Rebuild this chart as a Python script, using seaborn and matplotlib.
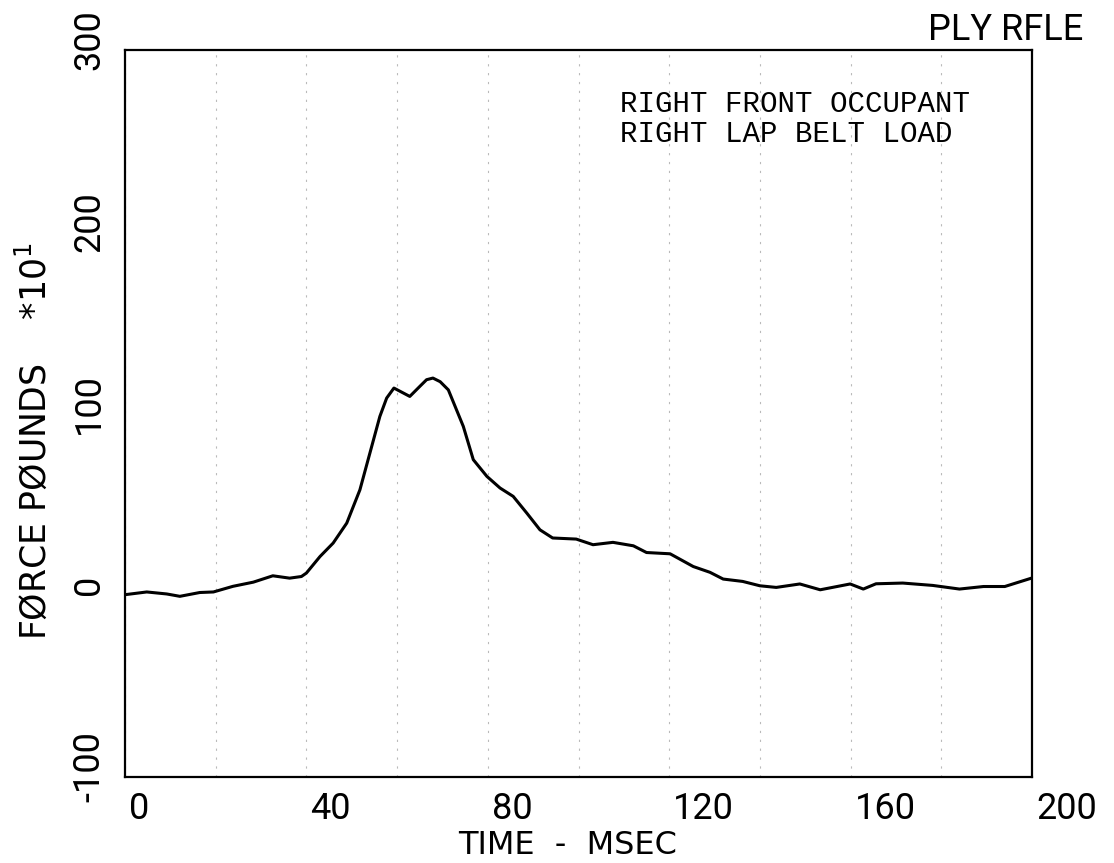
# -*- coding: utf-8 -*-
"""
Lap belt load trace (right front occupant) - plotter style
"""
import numpy as np
import pandas as pd
import matplotlib
matplotlib.use('Agg')
import matplotlib.pyplot as plt
import matplotlib.transforms as mtransforms
import seaborn as sns

# ------------------------------------------------------------------
# data (force in pounds * 10)
# ------------------------------------------------------------------
time_ms = [0, 4.8, 9.2, 12.1, 16.5, 19.5, 23.8, 28.3, 32.6, 36.3, 38.9, 40.0,
           43.0, 45.9, 48.9, 51.8, 54.0, 56.2, 57.7, 59.3, 62.8, 65.0, 66.5,
           67.9, 69.5, 71.3, 74.6, 76.8, 79.8, 82.7, 85.6, 88.6, 91.5, 94.3,
           99.5, 103.2, 107.6, 112.1, 115.0, 120.2, 125.3, 129.0, 131.9, 136.2,
           140.0, 143.6, 148.8, 153.3, 159.9, 162.8, 165.6, 171.5, 178.1, 184.0,
           189.3, 194.0, 200.0]
force_lb10 = [0.3, 1.8, 0.7, -0.6, 1.5, 1.8, 4.9, 7.2, 10.7, 9.4, 10.3, 12.2,
              21.3, 28.7, 39.7, 58.0, 78.2, 98.4, 108.5, 114.0, 109.4, 114.9, 118.6,
              119.5, 117.5, 113.0, 92.9, 74.6, 65.4, 59.0, 54.4, 45.2, 36.0, 31.5,
              30.9, 27.8, 29.1, 27.2, 23.5, 22.8, 15.8, 12.6, 8.9, 7.6,
              5.2, 4.3, 6.2, 3.0, 6.2, 3.4, 6.3, 6.7, 5.4, 3.4,
              4.8, 4.8, 9.5]

x_ticks = [0, 40, 80, 120, 160, 200]
y_ticks = [-100, 0, 100, 200, 300]
y_tick_labels = ['-100', '0', '100', '200', '300']

TITLE = "PLY RFLE"
NOTE = "RIGHT FRONT OCCUPANT\nRIGHT LAP BELT LOAD"
X_LABEL = "TIME  -  MSEC"
Y_LABEL = "FØRCE PØUNDS    *10$^{\\mathregular{1}}$"

# ------------------------------------------------------------------
# style
# ------------------------------------------------------------------
sns.set_style("white")
plt.rcParams['font.family'] = ['Roboto', 'DejaVu Sans']
plt.rcParams['mathtext.fontset'] = 'custom'
plt.rcParams['mathtext.rm'] = 'DejaVu Sans'
for key in ['text.color', 'axes.labelcolor', 'xtick.color', 'ytick.color']:
    plt.rcParams[key] = 'black'

LABEL_FONT = ['DejaVu Sans']

df = pd.DataFrame({'t': time_ms, 'f': force_lb10})

fig = plt.figure(figsize=(11.14, 8.63), dpi=100)
ax = fig.add_axes([0.1122, 0.0997, 0.8142, 0.8423])

# faint broken vertical lines like the scanned chart paper
ax.set_xticks(np.arange(20, 200, 20), minor=True)
ax.grid(axis='x', which='both', linestyle=(0, (2, 6)), color='0.55',
        linewidth=0.8, alpha=0.6)

sns.lineplot(data=df, x='t', y='f', color='black', linewidth=2.2, ax=ax)

ax.set_xlim(0, 200)
ax.set_ylim(-100, 300)

for sp in ax.spines.values():
    sp.set_visible(True)
    sp.set_color('black')
    sp.set_linewidth(1.6)

ax.set_xticks(x_ticks)
ax.set_xticklabels([str(v) for v in x_ticks], fontsize=26, ha='left',
                   fontweight='normal')
ax.set_yticks(y_ticks)
ax.set_yticklabels(y_tick_labels, fontsize=26, rotation=90, va='center',
                   fontweight='normal')
ax.tick_params(axis='both', which='major', direction='inout', length=12,
               width=1.6, color='black', pad=4)
ax.tick_params(axis='both', which='minor', length=0)

# nudge tick labels the way the plotter placed them
dx = mtransforms.ScaledTranslation(4 / 100, 0, fig.dpi_scale_trans)
for lab in ax.get_xticklabels():
    lab.set_transform(lab.get_transform() + dx)
dy = mtransforms.ScaledTranslation(-4 / 100, 10 / 100, fig.dpi_scale_trans)
for lab in ax.get_yticklabels():
    lab.set_transform(lab.get_transform() + dy)

ax.set_xlabel(X_LABEL, fontsize=23, family=LABEL_FONT, fontweight='normal')
ax.xaxis.set_label_coords(0.488, -0.073)
ax.set_ylabel(Y_LABEL, fontsize=25, family=LABEL_FONT, fontweight='normal')
ax.yaxis.set_label_coords(-0.08, 0.462)

ax.text(0.546, 0.945, NOTE, transform=ax.transAxes, ha='left', va='top',
        fontsize=21, family=['Liberation Mono', 'DejaVu Sans Mono'],
        fontweight='normal', linespacing=1.1)

fig.text(928 / 1114, 1 - 12 / 863, TITLE, ha='left', va='top', fontsize=26)

fig.savefig('out.png', dpi=100)
